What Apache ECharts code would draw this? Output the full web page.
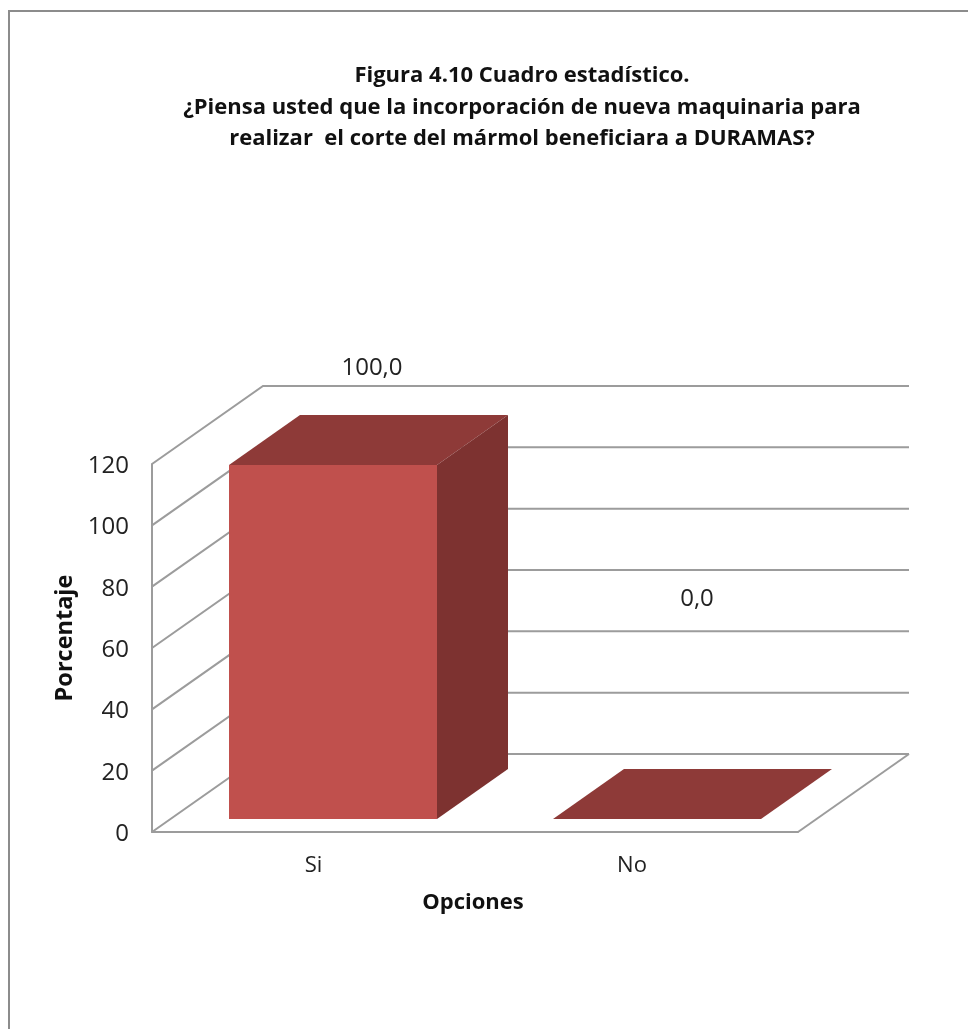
<!DOCTYPE html>
<html lang="es">
<head>
<meta charset="utf-8">
<title>Figura 4.10</title>
<style>html,body{margin:0;padding:0;background:#fff}#chart{width:968px;height:1029px}</style>
<script src="https://cdn.jsdelivr.net/npm/echarts@6/dist/echarts.min.js"></script>
</head>
<body>
<div id="chart"></div>
<script>
// Survey answers, in percent
const categories = ['Si', 'No'];
const percentages = [100.0, 0.0];
const axisTicks = [0, 20, 40, 60, 80, 100, 120];

const titleText = 'Figura 4.10 Cuadro estadístico.\n¿Piensa usted que la incorporación de nueva maquinaria para\nrealizar  el corte del mármol beneficiara a DURAMAS?';

// Oblique projection used for the pseudo-3D box and columns
const wallDepth = [111, -78];
const barDepth = [71, -50];
const barWidth = 208;
const labelShift = [[39, -97], [40, -220]];

const FONT = '"Open Sans", sans-serif';
const LINE = '#9c9c9c';
const FRONT = '#c0504d';
const TOP = '#8e3a38';
const SIDE = '#7d3230';

// Back wall gridlines, their diagonals along the left wall, and the floor edge
function renderWalls(params, api) {
  const cs = params.coordSys;
  const v = api.value(0);
  const y = api.coord([0, v])[1];
  const x0 = cs.x, x1 = cs.x + cs.width;
  const style = { stroke: LINE, lineWidth: 2, fill: null };
  const bx = x0 + wallDepth[0], by = y + wallDepth[1];
  const children = [
    { type: 'polyline', shape: { points: [[x0, y], [bx, by], [x1 + wallDepth[0], by]] }, style }
  ];
  if (v === 0) {
    children.push({ type: 'line', shape: { x1: x1, y1: y, x2: x1 + wallDepth[0], y2: by }, style });
  }
  return { type: 'group', children };
}

// One column: front face, top face, side face and its value label
function renderBar(params, api) {
  const i = api.value(0);
  const val = api.value(1);
  const [cx, yTop] = api.coord([i, val]);
  const yBase = api.coord([i, 0])[1];
  const l = cx - barWidth / 2, r = cx + barWidth / 2;
  const [dx, dy] = barDepth;
  const children = [
    { type: 'polygon', shape: { points: [[l, yTop], [r, yTop], [r + dx, yTop + dy], [l + dx, yTop + dy]] }, style: { fill: TOP } }
  ];
  if (val > 0) {
    children.push(
      { type: 'polygon', shape: { points: [[r, yTop], [r + dx, yTop + dy], [r + dx, yBase + dy], [r, yBase]] }, style: { fill: SIDE } },
      { type: 'rect', shape: { x: l, y: yTop, width: barWidth, height: yBase - yTop }, style: { fill: FRONT } }
    );
  }
  children.push({
    type: 'text',
    x: cx + labelShift[i][0],
    y: yTop + labelShift[i][1],
    style: {
      text: val.toFixed(1).replace('.', ','),
      font: '24px ' + FONT,
      fill: '#222',
      align: 'center',
      verticalAlign: 'middle'
    }
  });
  return { type: 'group', children };
}

const chart = echarts.init(document.getElementById('chart'), null, { renderer: 'canvas' });
chart.setOption({
  animation: false,
  backgroundColor: '#fff',
  graphic: [{
    type: 'rect', z: -1, silent: true,
    shape: { x: 9, y: 11, width: 1100, height: 1200 },
    style: { fill: null, stroke: '#8c8c8c', lineWidth: 2 }
  }],
  title: {
    text: titleText,
    left: 517, top: 55, textAlign: 'center',
    textStyle: { fontFamily: FONT, fontSize: 22, fontWeight: 'bold', color: '#111', lineHeight: 31.5 }
  },
  grid: [
    { left: 152, top: 464, width: 646, height: 368 },
    { left: 171, top: 465, width: 648, height: 354 }
  ],
  xAxis: [
    {
      gridIndex: 0, type: 'category', data: categories,
      name: 'Opciones', nameLocation: 'middle', nameGap: 60,
      nameTextStyle: { fontFamily: FONT, fontSize: 22, fontWeight: 'bold', color: '#111', padding: [0, 4, 0, 0] },
      axisLine: { lineStyle: { color: LINE, width: 2 } },
      axisTick: { show: false },
      axisLabel: {
        margin: 23,
        fontFamily: FONT, fontSize: 22, color: '#222',
        formatter: v => v === 'No' ? '{no|No}' : v,
        rich: { no: { fontFamily: FONT, fontSize: 22, color: '#222', padding: [0, 9, 0, 0] } }
      }
    },
    { gridIndex: 1, type: 'category', data: categories, show: false }
  ],
  yAxis: [
    {
      gridIndex: 0, type: 'value', min: axisTicks[0], max: axisTicks[axisTicks.length - 1], interval: 20,
      name: 'Porcentaje', nameLocation: 'middle', nameGap: 74, nameRotate: 90,
      nameTextStyle: { fontFamily: FONT, fontSize: 23.5, fontWeight: 'bold', color: '#111', padding: [0, 0, 0, 20] },
      axisLine: { show: true, lineStyle: { color: LINE, width: 2 } },
      axisTick: { show: false },
      splitLine: { show: false },
      axisLabel: { margin: 23, fontFamily: FONT, fontSize: 24, color: '#222', verticalAlign: 'top', lineHeight: 4 }
    },
    { gridIndex: 1, type: 'value', min: 0, max: 100, show: false, splitLine: { show: false } }
  ],
  series: [
    {
      type: 'custom', xAxisIndex: 0, yAxisIndex: 0, clip: false, silent: true, z: 1,
      renderItem: renderWalls,
      encode: { y: 0 },
      data: axisTicks.map(v => [v])
    },
    {
      type: 'custom', xAxisIndex: 1, yAxisIndex: 1, clip: false, silent: true, z: 2,
      renderItem: renderBar,
      encode: { x: 0, y: 1 },
      data: percentages.map((v, i) => [i, v])
    }
  ]
});
</script>
</body>
</html>
